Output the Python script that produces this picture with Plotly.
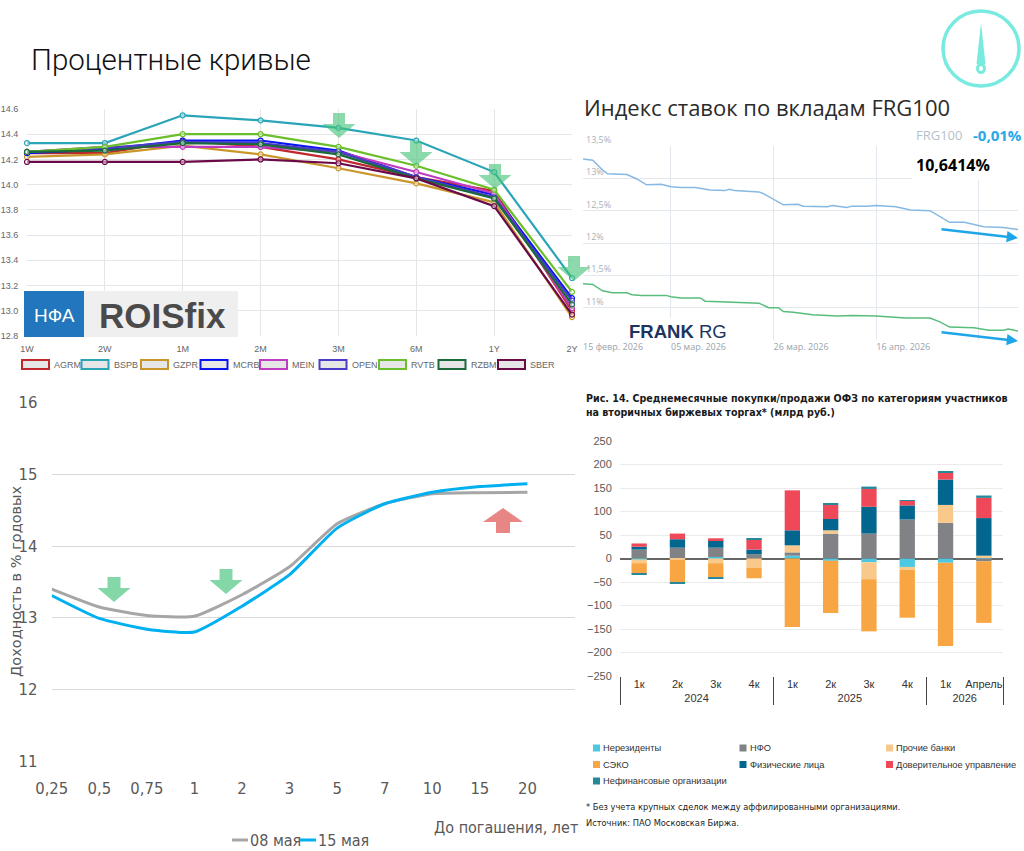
import plotly.graph_objects as go

W, H = 1024, 851


def px(x):
    # pixel -> paper x
    return x / W


def py(y):
    # pixel (from top) -> paper y
    return 1 - y / H


# ----------------------------
# 1. ROISfix curves (top left)
# ----------------------------
tenors = ['1W', '2W', '1M', '2M', '3M', '6M', '1Y', '2Y']
roisfix_names = ['AGRM', 'BSPB', 'GZPR', 'MCRB', 'MEIN', 'OPEN', 'RVTB', 'RZBM', 'SBER']
agrm = [14.25, 14.25, 14.35, 14.30, 14.20, 14.06, 13.95, 13.00]
bspb = [14.33, 14.33, 14.55, 14.51, 14.45, 14.35, 14.10, 13.26]
gzpr = [14.22, 14.24, 14.31, 14.24, 14.13, 14.01, 13.86, 12.95]
mcrb = [14.25, 14.28, 14.35, 14.35, 14.27, 14.06, 13.92, 13.10]
mein = [14.26, 14.30, 14.30, 14.30, 14.26, 14.10, 13.93, 13.02]
open_ = [14.26, 14.29, 14.34, 14.33, 14.26, 14.06, 13.90, 13.08]
rvtb = [14.26, 14.30, 14.40, 14.40, 14.30, 14.15, 13.96, 13.15]
rzbm = [14.26, 14.27, 14.33, 14.32, 14.24, 14.05, 13.89, 13.05]
sber = [14.18, 14.18, 14.18, 14.20, 14.17, 14.05, 13.83, 12.97]
roisfix_colors = ['#c0282d', '#2aa5b8', '#c8962a', '#0a14f0', '#c03cc0',
                  '#4a3cc8', '#6abf2a', '#1a6a3a', '#6a0a48']

# ----------------------------
# 2. FRG100 deposit index (top right)
# ----------------------------
frg_top_dates = ['2026-02-15', '2026-02-17', '2026-02-19', '2026-02-20', '2026-02-24', '2026-02-26',
                 '2026-02-28', '2026-03-02', '2026-03-03', '2026-03-05', '2026-03-07', '2026-03-10',
                 '2026-03-13', '2026-03-16', '2026-03-17', '2026-03-18', '2026-03-23', '2026-03-24',
                 '2026-03-26', '2026-03-28', '2026-03-31', '2026-04-01', '2026-04-06', '2026-04-07',
                 '2026-04-10', '2026-04-11', '2026-04-14', '2026-04-16', '2026-04-20', '2026-04-23',
                 '2026-04-27', '2026-04-29', '2026-05-01', '2026-05-04', '2026-05-06', '2026-05-08',
                 '2026-05-12', '2026-05-15']
frg_top = [13.30, 13.28, 13.13, 13.07, 13.06, 12.99, 12.90, 12.90, 12.91, 12.87, 12.86, 12.86,
           12.82, 12.81, 12.83, 12.81, 12.79, 12.76, 12.67, 12.59, 12.60, 12.57, 12.56, 12.58,
           12.55, 12.57, 12.57, 12.58, 12.56, 12.51, 12.50, 12.41, 12.32, 12.32, 12.29, 12.25,
           12.24, 12.21]
frg_low_dates = ['2026-02-15', '2026-02-17', '2026-02-19', '2026-02-21', '2026-02-24', '2026-02-25',
                 '2026-02-27', '2026-03-04', '2026-03-05', '2026-03-07', '2026-03-11', '2026-03-12',
                 '2026-03-15', '2026-03-23', '2026-03-25', '2026-03-27', '2026-03-28', '2026-03-30',
                 '2026-04-03', '2026-04-08', '2026-04-11', '2026-04-16', '2026-04-22', '2026-04-27',
                 '2026-04-29', '2026-05-01', '2026-05-06', '2026-05-09', '2026-05-12', '2026-05-13',
                 '2026-05-15']
frg_low = [11.37, 11.36, 11.26, 11.23, 11.23, 11.20, 11.19, 11.19, 11.17, 11.15, 11.15, 11.10,
           11.09, 11.07, 11.00, 11.00, 10.94, 10.93, 10.89, 10.87, 10.88, 10.87, 10.84, 10.84,
           10.78, 10.70, 10.69, 10.65, 10.65, 10.67, 10.64]
frg_tickvals = ['2026-02-15', '2026-03-05', '2026-03-26', '2026-04-16', '2026-05-07']
frg_ticktext = ['15 февр. 2026', '05 мар. 2026', '26 мар. 2026', '16 апр. 2026', '07 мая 2026']
frg_yvals = [10.5, 11, 11.5, 12, 12.5, 13, 13.5]
frg_ytext = ['', '11%', '11,5%', '12%', '12,5%', '13%', '13,5%']

# ----------------------------
# 3. OFZ yield curve (bottom left)
# ----------------------------
maturities = ['0,25', '0,5', '0,75', '1', '2', '3', '5', '7', '10', '15', '20']
ofz_may08 = [13.40, 13.15, 13.03, 13.02, 13.32, 13.71, 14.31, 14.59, 14.73, 14.745, 14.75]
ofz_may15 = [13.31, 12.99, 12.84, 12.80, 13.16, 13.60, 14.25, 14.59, 14.75, 14.83, 14.87]

# ----------------------------
# 4. OFZ purchases/sales by participants (bottom right)
# ----------------------------
bar_years = ['2024'] * 4 + ['2025'] * 4 + ['2026'] * 2
bar_periods = ['1к', '2к', '3к', '4к', '1к', '2к', '3к', '4к', '1к', 'Апрель']
bar_names = ['Нерезиденты', 'НФО', 'Прочие банки', 'СЭКО', 'Физические лица',
             'Доверительное управление', 'Нефинансовые организации']
nonres = [-2, 0, 3, 0, 6, -5, -8, -18, -9, 3]
nfo = [19, 23, 20, 9, 7, 53, 53, 83, 76, -6]
banks = [-8, -3, -10, -20, 15, 7, -36, -6, 38, 3]
seko = [-21, -49, -30, -22, -146, -111, -111, -102, -177, -131]
phys = [6, 18, 16, 10, 32, 24, 57, 30, 54, 80]
trust = [7, 12, 4, 22, 85, 30, 38, 10, 14, 43]
nonfin = [-3, -2, -3, 1, 0, 2, 5, 1, 3, 5]
bar_colors = ['#4cc9e1', '#808286', '#f9c98c', '#f7a643', '#03668f', '#ee4859', '#26899a']

NARROW = 'Liberation Sans Narrow, DejaVu Sans Condensed, Liberation Sans, sans-serif'
SANS = 'Liberation Sans, Arial, sans-serif'
OPEN = 'Open Sans, Liberation Sans, sans-serif'

fig = go.Figure()

# top-left lines
for name, ys, color in zip(roisfix_names, [agrm, bspb, gzpr, mcrb, mein, open_, rvtb, rzbm, sber],
                           roisfix_colors):
    fig.add_trace(go.Scatter(
        x=tenors, y=ys, mode='lines+markers', name=name,
        line=dict(color=color, width=2.2),
        marker=dict(size=5, color='rgba(255,255,255,0.5)', line=dict(color=color, width=1.2)),
        xaxis='x', yaxis='y', cliponaxis=False, showlegend=False
    ))

# top-right lines
fig.add_trace(go.Scatter(x=frg_top_dates, y=frg_top, mode='lines', line=dict(color='#86b8e4', width=1.5),
                         xaxis='x2', yaxis='y2', showlegend=False))
fig.add_trace(go.Scatter(x=frg_low_dates, y=frg_low, mode='lines', line=dict(color='#58bd7c', width=1.5),
                         xaxis='x2', yaxis='y2', showlegend=False))

# bottom-left lines
fig.add_trace(go.Scatter(x=maturities, y=ofz_may08, mode='lines', name='08 мая',
                         line=dict(color='#a6a6a6', width=3, shape='spline', smoothing=0.5),
                         xaxis='x3', yaxis='y3', showlegend=False))
fig.add_trace(go.Scatter(x=maturities, y=ofz_may15, mode='lines', name='15 мая',
                         line=dict(color='#00b0f0', width=3, shape='spline', smoothing=0.5),
                         xaxis='x3', yaxis='y3', showlegend=False))

# bottom-right bars
for name, vals, color in zip(bar_names, [nonres, nfo, banks, seko, phys, trust, nonfin], bar_colors):
    fig.add_trace(go.Bar(x=[bar_years, bar_periods], y=vals, name=name,
                         marker=dict(color=color, line=dict(width=0)),
                         xaxis='x4', yaxis='y4', showlegend=False))

shapes = []
annotations = []


def note(x, y, text, size, color, family=SANS, xanchor='left', yanchor='middle', **kw):
    annotations.append(dict(x=px(x), y=py(y), xref='paper', yref='paper', text=text, showarrow=False,
                            xanchor=xanchor, yanchor=yanchor,
                            font=dict(family=family, size=size, color=color), **kw))


def arrow_path(cx, top, bottom, head_w=33, shaft_w=12, head_h=14, up=False):
    hw, sw = head_w / 2, shaft_w / 2
    if up:
        base = top + head_h
        pts = [(cx, top), (cx + hw, base), (cx + sw, base), (cx + sw, bottom),
               (cx - sw, bottom), (cx - sw, base), (cx - hw, base)]
    else:
        base = bottom - head_h
        pts = [(cx - sw, top), (cx + sw, top), (cx + sw, base), (cx + hw, base),
               (cx, bottom), (cx - hw, base), (cx - sw, base)]
    return 'M ' + ' L '.join(f'{px(x):.5f},{py(y):.5f}' for x, y in pts) + ' Z'


# page title
annotations.append(dict(x=px(29), y=py(60), xref='paper', yref='paper', xanchor='left', yanchor='middle',
                        text='Процентные кривые', showarrow=False,
                        font=dict(family='Roboto, ' + SANS, size=29.5, color='#111', weight=300)))

# logo top right
shapes.append(dict(type='circle', xref='paper', yref='paper', x0=px(943), x1=px(1019), y0=py(86), y1=py(11),
                   line=dict(color='#78eadf', width=3.5)))
shapes.append(dict(type='path', xref='paper', yref='paper', fillcolor='#78eadf', line=dict(width=0),
                   path=f'M {px(981)},{py(23)} L {px(985.5)},{py(64)} L {px(976.5)},{py(64)} Z'))
shapes.append(dict(type='circle', xref='paper', yref='paper', x0=px(976), x1=px(986), y0=py(74), y1=py(63),
                   fillcolor='#78eadf', line=dict(width=0)))
shapes.append(dict(type='circle', xref='paper', yref='paper', x0=px(979), x1=px(983), y0=py(71), y1=py(66),
                   fillcolor='white', line=dict(width=0)))

# top-left: ROISfix logo
shapes.append(dict(type='rect', xref='paper', yref='paper', x0=px(24), x1=px(84), y0=py(337), y1=py(291),
                   fillcolor='#2176bd', line=dict(width=0), layer='above'))
shapes.append(dict(type='rect', xref='paper', yref='paper', x0=px(84), x1=px(238), y0=py(337), y1=py(291),
                   fillcolor='#efefef', line=dict(width=0), layer='above'))
note(54, 316, 'НФА', 19, 'white', xanchor='center')
note(162, 315, '<b>ROISfix</b>', 35, '#4a4a4a', xanchor='center')

# top-left: arrows
for cx, top in [(339, 113), (416, 141), (495, 164), (574, 256)]:
    shapes.append(dict(type='path', xref='paper', yref='paper', path=arrow_path(cx, top, top + 25),
                       fillcolor='rgba(70,195,120,0.62)', line=dict(width=0), layer='above'))

# top-left: legend
for i, (name, color) in enumerate(zip(roisfix_names, roisfix_colors)):
    x0 = 22 + i * 59.5
    shapes.append(dict(type='rect', xref='paper', yref='paper', x0=px(x0), x1=px(x0 + 27),
                       y0=py(369), y1=py(360), fillcolor='#e6e6e6', line=dict(color=color, width=2)))
    note(x0 + 30, 364.5, name, 9, '#666')

# top-right: title and overlays
note(582, 107, 'Индекс ставок по вкладам FRG100', 22, '#2b2b2b', family=OPEN)
shapes.append(dict(type='rect', xref='paper', yref='paper', x0=px(912), x1=px(1024), y0=py(180), y1=py(124),
                   fillcolor='white', line=dict(width=0), layer='above'))
shapes.append(dict(type='rect', xref='paper', yref='paper', x0=px(620), x1=px(752), y0=py(343), y1=py(318),
                   fillcolor='white', line=dict(width=0), layer='above'))
note(914, 135, 'FRG100', 13, '#b5c1cc', family=OPEN)
note(1024, 135, '<b>-0,01%</b>', 15, '#2aa7e6', family=OPEN, xanchor='right')
note(914, 165, '<b>10,6414%</b>', 16, '#000', family=OPEN)
note(627, 331, '<b>FRANK</b> RG', 18.5, '#1d3461')
for y_head in [238, 341]:
    annotations.append(dict(x=px(1018), y=py(y_head), xref='paper', yref='paper', ax=-78, ay=-9,
                            axref='pixel', ayref='pixel', showarrow=True, arrowhead=2, arrowsize=0.9,
                            arrowwidth=2.5, arrowcolor='#1ea6e8', text=''))

# bottom-left: arrows, titles, legend
for cx, top in [(114, 577), (226, 569)]:
    shapes.append(dict(type='path', xref='paper', yref='paper', path=arrow_path(cx, top, top + 25, shaft_w=13),
                       fillcolor='#84d8a7', line=dict(width=0), layer='above'))
shapes.append(dict(type='path', xref='paper', yref='paper', path=arrow_path(503, 508, 533, head_w=40, shaft_w=14,
                                                                             head_h=14, up=True),
                   fillcolor='#e88686', line=dict(width=0), layer='above'))
note(16, 581, 'Доходность в % годовых', 14.5, '#595959', family='DejaVu Sans, ' + SANS,
     xanchor='center', textangle=-90)
note(580, 827, 'До погашения, лет', 16, '#595959', family=NARROW, xanchor='right')
for x0, label, color in [(232, '08 мая', '#a6a6a6'), (300, '15 мая', '#00b0f0')]:
    shapes.append(dict(type='line', xref='paper', yref='paper', x0=px(x0), x1=px(x0 + 16),
                       y0=py(840), y1=py(840), line=dict(color=color, width=3)))
    note(x0 + 16, 840, label, 16, '#595959', family=NARROW)

# bottom-right: title, legend, notes
note(584, 390, '<b>Рис. 14. Среднемесячные покупки/продажи ОФЗ по категориям участников<br>'
               'на вторичных биржевых торгах* (млрд руб.)</b>', 10.6, '#1a1a1a',
     family=NARROW, yanchor='top', align='left')
for i, (name, color) in enumerate(zip(bar_names, bar_colors)):
    x0 = 593 + (i % 3) * 146.5
    yc = 748 + (i // 3) * 16.5
    shapes.append(dict(type='rect', xref='paper', yref='paper', x0=px(x0), x1=px(x0 + 7),
                       y0=py(yc + 3.5), y1=py(yc - 3.5), fillcolor=color, line=dict(width=0)))
    note(x0 + 8, yc, name, 9.3, '#333')
note(584, 806, '* Без учета крупных сделок между аффилированными организациями.', 9.2, '#222', family=NARROW)
note(584, 822, 'Источник: ПАО Московская Биржа.', 9.2, '#222', family=NARROW)

fig.update_layout(
    template='none',
    width=W, height=H,
    margin=dict(l=0, r=0, t=0, b=0, autoexpand=False),
    paper_bgcolor='white', plot_bgcolor='white',
    showlegend=False,
    barmode='relative', bargap=0.6,
    shapes=shapes, annotations=annotations,
    # top-left
    xaxis=dict(domain=[px(27), px(572)], anchor='y', type='category', range=[0, 7], automargin=False,
               showgrid=True, gridcolor='#e6e6e6', zeroline=False, showline=False,
               ticks='outside', ticklen=4, tickcolor='rgba(0,0,0,0)',
               tickfont=dict(family=SANS, size=9, color='#666')),
    yaxis=dict(domain=[py(336), py(109)], anchor='x', range=[12.8, 14.6], dtick=0.2, tickformat='.1f',
               automargin=False,
               showgrid=True, gridcolor='#e6e6e6', zeroline=False, showline=False,
               ticks='outside', ticklen=6, tickcolor='rgba(0,0,0,0)',
               tickfont=dict(family=SANS, size=9, color='#666')),
    # top-right
    xaxis2=dict(domain=[px(583), px(1018)], anchor='y2', type='date', range=['2026-02-15', '2026-05-15'],
                tickvals=frg_tickvals, ticktext=frg_ticktext, ticklabelposition='outside right',
                automargin=False,
                showgrid=True, gridcolor='#e3e8ef', zeroline=False, showline=False, ticks='',
                tickfont=dict(family=OPEN, size=9, color='#9aa3ad')),
    yaxis2=dict(domain=[py(340), py(146)], anchor='x2', range=[10.5, 13.5],
                tickvals=frg_yvals, ticktext=frg_ytext, ticklabelposition='inside top',
                ticklabeloverflow='allow', automargin=False,
                showgrid=True, gridcolor='#e3e8ef', zeroline=False, showline=False, ticks='',
                tickfont=dict(family=OPEN, size=9, color='#a8b1ba')),
    # bottom-left
    xaxis3=dict(domain=[px(51.7), px(575)], anchor='y3', type='category', range=[0, 11],
                automargin=False,
                showgrid=False, zeroline=False, showline=False,
                ticks='outside', ticklen=12, tickcolor='rgba(0,0,0,0)',
                tickfont=dict(family=NARROW, size=16.5, color='#595959')),
    yaxis3=dict(domain=[py(761), py(402.7)], anchor='x3', range=[11, 16], dtick=1, automargin=False,
                showgrid=True, gridcolor='#d9d9d9', gridwidth=1.3, zeroline=False, showline=False,
                ticks='outside', ticklen=10, tickcolor='rgba(0,0,0,0)',
                tickfont=dict(family=NARROW, size=16.5, color='#595959')),
    # bottom-right
    xaxis4=dict(domain=[px(620), px(1003)], anchor='y4', type='multicategory', tickangle=0,
                automargin=False,
                showdividers=True, dividercolor='#444', dividerwidth=1,
                showgrid=False, zeroline=False, showline=False,
                ticks='outside', ticklen=12, tickcolor='rgba(0,0,0,0)',
                tickfont=dict(family=SANS, size=11, color='#333')),
    yaxis4=dict(domain=[py(676), py(441)], anchor='x4', range=[-250, 250], dtick=50, automargin=False,
                showgrid=True, gridcolor='#ebebeb', zeroline=True, zerolinecolor='#666',
                zerolinewidth=1.5, showline=False,
                ticks='outside', ticklen=5, tickcolor='rgba(0,0,0,0)',
                tickfont=dict(family=SANS, size=11, color='#595959')),
)

fig.write_html("out.html", config={'displayModeBar': False},
               post_script="document.body.style.margin='0';document.body.style.overflow='hidden';")
